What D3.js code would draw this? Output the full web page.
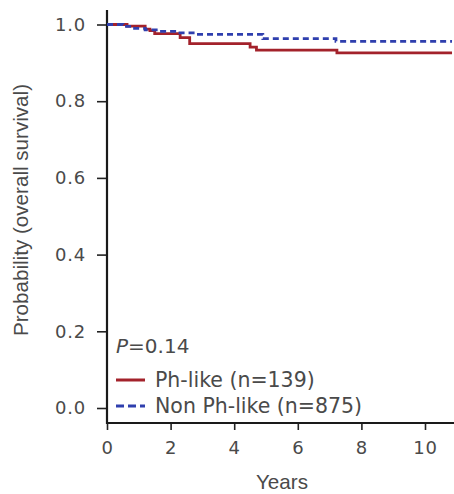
<!DOCTYPE html>
<html>
<head>
<meta charset="utf-8">
<script src="https://cdn.jsdelivr.net/npm/d3@7"></script>
<style>
body { margin: 0; background: #fff; }
svg text { fill: #4a4a4a; }
</style>
</head>
<body>
<svg id="chart" width="454" height="494"></svg>
<script>
// step times (years) and survival probability for each group
var phTimes = [0, 0.63, 1.2, 1.35, 1.5, 2.3, 2.6, 4.5, 4.7, 7.23, 10.85];
var phSurv  = [1.0, 0.996, 0.988, 0.984, 0.976, 0.966, 0.950, 0.941, 0.933, 0.926, 0.926];
var nonTimes = [0, 0.5, 0.8, 1.2, 1.6, 2.2, 2.8, 4.9, 7.2, 10.85];
var nonSurv  = [1.0, 0.995, 0.99, 0.986, 0.982, 0.978, 0.974, 0.963, 0.956, 0.956];

var xTicks = [0, 2, 4, 6, 8, 10];
var yTicks = [0, 0.2, 0.4, 0.6, 0.8, 1.0];
var legendLabels = ["Ph-like (n=139)", "Non Ph-like (n=875)"];
var pValue = "0.14";

var svg = d3.select("#chart");

var x = d3.scaleLinear().domain([0, 10]).range([107, 425]);
var y = d3.scaleLinear().domain([0, 1]).range([408, 24.5]);

var wide = "'DejaVu Sans', Verdana, sans-serif";
var plain = "'Liberation Sans', Arial, sans-serif";

// y axis
var yAxis = svg.append("g")
    .attr("transform", "translate(107,0)")
    .call(d3.axisLeft(y).tickValues(yTicks).tickFormat(d3.format(".1f")).tickSize(10).tickSizeOuter(0));
yAxis.select(".domain").remove();
yAxis.selectAll("line").attr("stroke", "#222").attr("stroke-width", 1.6);
yAxis.selectAll("text")
    .attr("x", -21)
    .style("font-family", wide)
    .style("font-size", "18px")
    .style("letter-spacing", "0.8px")
    .attr("fill", "#4a4a4a");

// x axis
var xAxis = svg.append("g")
    .attr("transform", "translate(0,423)")
    .call(d3.axisBottom(x).tickValues(xTicks).tickFormat(d3.format("d")).tickSize(7).tickSizeOuter(0));
xAxis.select(".domain").remove();
xAxis.selectAll("line").attr("stroke", "#222").attr("stroke-width", 1.6);
xAxis.selectAll("text")
    .attr("y", 18)
    .style("font-family", wide)
    .style("font-size", "18px")
    .style("letter-spacing", "0.8px")
    .attr("fill", "#4a4a4a");

// axis lines
svg.append("line")
    .attr("x1", 107).attr("x2", 107)
    .attr("y1", 10).attr("y2", 424)
    .attr("stroke", "#1a1a1a").attr("stroke-width", 2.2);
svg.append("line")
    .attr("x1", 106).attr("x2", 454)
    .attr("y1", 423).attr("y2", 423)
    .attr("stroke", "#1a1a1a").attr("stroke-width", 2.2);

// axis titles (condensed look via textLength)
svg.append("text")
    .attr("transform", "translate(28,210) rotate(-90)")
    .attr("text-anchor", "middle")
    .attr("textLength", 252)
    .attr("lengthAdjust", "spacingAndGlyphs")
    .style("font-family", plain)
    .style("font-size", "21px")
    .text("Probability (overall survival)");

svg.append("text")
    .attr("x", 282).attr("y", 489)
    .attr("text-anchor", "middle")
    .attr("textLength", 52)
    .attr("lengthAdjust", "spacingAndGlyphs")
    .style("font-family", plain)
    .style("font-size", "21px")
    .text("Years");

// survival curves
var line = d3.line()
    .x(function(d){ return x(d[0]); })
    .y(function(d){ return y(d[1]); })
    .curve(d3.curveStepAfter);

var nonData = nonTimes.map(function(t, i){ return [t, nonSurv[i]]; });
var phData = phTimes.map(function(t, i){ return [t, phSurv[i]]; });

svg.append("path")
    .datum(phData)
    .attr("d", line)
    .attr("fill", "none")
    .attr("stroke", "#a3222b")
    .attr("stroke-width", 2.8);

svg.append("path")
    .datum(nonData)
    .attr("d", line)
    .attr("fill", "none")
    .attr("stroke", "#2f3fae")
    .attr("stroke-width", 2.8)
    .attr("stroke-dasharray", "6,4");

// p value
var pText = svg.append("text")
    .attr("x", 116).attr("y", 353)
    .style("font-family", wide)
    .style("font-size", "20px");
pText.append("tspan").style("font-style", "italic").text("P");
pText.append("tspan").text("=" + pValue);

// legend
var legend = svg.selectAll("g.legend")
    .data(legendLabels)
    .enter()
    .append("g")
    .attr("class", "legend")
    .attr("transform", function(d, i){ return `translate(0, ${380 + i * 26})`; });

legend.append("line")
    .attr("x1", 116).attr("x2", 145)
    .attr("y1", 0).attr("y2", 0)
    .attr("stroke", function(d, i){ return i == 0 ? "#a3222b" : "#2f3fae"; })
    .attr("stroke-width", 3)
    .attr("stroke-dasharray", function(d, i){ return i == 0 ? null : "8,4"; });

legend.append("text")
    .attr("x", 155).attr("y", 7)
    .style("font-family", wide)
    .style("font-size", "20.5px")
    .text(function(d){ return d; });
</script>
</body>
</html>
